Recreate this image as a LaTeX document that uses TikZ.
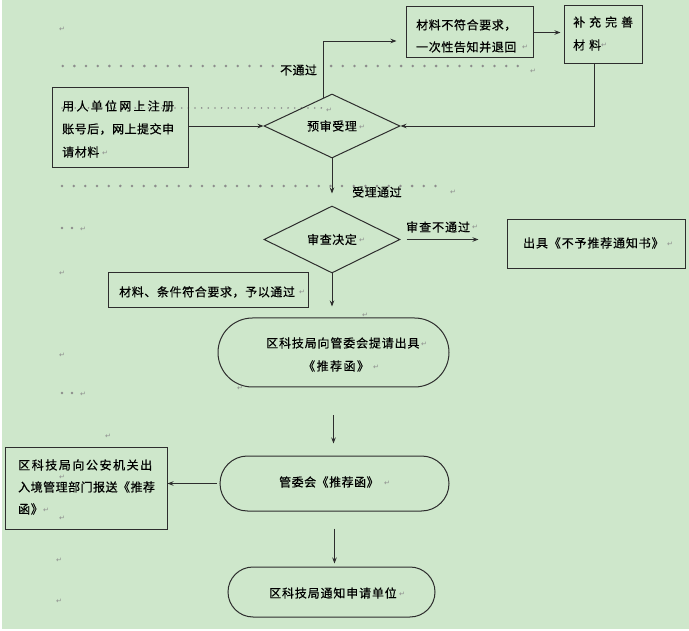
\documentclass[tikz,border=0pt]{standalone}
\usepackage{fontspec}
\setmainfont{DejaVu Sans}
\newfontfamily\cjk[FakeBold=0.5]{Noto Sans CJK SC}
\newfontfamily\djv{DejaVu Sans}
\usetikzlibrary{shapes.geometric,arrows.meta,calc}
\definecolor{bggreen}{RGB}{206,231,203}
\definecolor{linec}{RGB}{45,45,45}
\definecolor{dotc}{RGB}{140,140,140}
\newcommand{\lsp}[2]{{\addfontfeature{LetterSpace=#1}#2}}
\tikzset{
  box/.style={draw=linec, line width=1pt, rectangle, inner sep=0pt},
  dia/.style={draw=linec, line width=1pt, diamond, inner sep=0pt, shape aspect=2,
              font=\cjk\fontsize{12}{14}\selectfont},
  stad/.style={draw=linec, line width=1pt, rectangle, inner sep=0pt},
  conn/.style={draw=linec, line width=0.9pt, -{Stealth[length=6pt,width=4.5pt]}},
  txt/.style={font=\cjk\fontsize{12}{14}\selectfont, inner sep=0pt, anchor=west},
  ret/.style={font=\djv\fontsize{7}{8}\selectfont, text=dotc, inner sep=0pt},
}
\begin{document}
\begin{tikzpicture}[x=1pt,y=-1pt]
\useasboundingbox (0,0) rectangle (689,631);
\fill[white] (0,0) rectangle (689,631);
\fill[bggreen] (2,0) rectangle (689,629);

% dotted leader lines
\foreach \k in {0,...,18} \fill[dotc] (62.7+11.67*\k,66) circle (1.4pt);
\foreach \k in {23,...,39} \fill[dotc] (62.7+11.67*\k,66) circle (1.4pt);
\foreach \k in {0,...,39} \fill[dotc] (62+6.65*\k,108) circle (0.9pt);
\foreach \k in {0,...,32} \fill[dotc] (62+11.67*\k,186) circle (1.4pt);
\foreach \yy in {228,393} {
  \fill[dotc] (62,\yy) circle (1.4pt);
  \fill[dotc] (72,\yy) circle (1.4pt);
}

% boxes and shapes
\node[box, minimum width=127pt, minimum height=51pt] (box1) at (469.5,32.5) {};
\node[box, minimum width=78pt, minimum height=58pt] (box2) at (603,35) {};
\node[box, minimum width=136pt, minimum height=80pt] (reg) at (120,128) {};
\node[dia, minimum width=136pt, minimum height=64pt] (pre) at (332,126) {\lsp{5}{预审受理}};
\node[dia, minimum width=136pt, minimum height=67pt] (rev) at (332,239.5) {\lsp{5}{审查决定}};
\node[box, minimum width=178pt, minimum height=49pt] (rej) at (596,244.5) {};
\node[box, minimum width=200pt, minimum height=35pt] (pass) at (208,290.5) {};
\node[stad, minimum width=231pt, minimum height=69pt, rounded corners=34.5pt] (s1) at (333.5,352.5) {};
\node[stad, minimum width=229pt, minimum height=55pt, rounded corners=27.5pt] (s2) at (334.5,483.5) {};
\node[box, minimum width=162pt, minimum height=82pt] (psb) at (86,488) {};
\node[stad, minimum width=207pt, minimum height=50pt, rounded corners=25pt] (s3) at (331.5,592) {};

% texts
\node[txt] (t1a) at (416,25) {\lsp{5}{材料不符合要求，}};
\node[txt] (t1b) at (416,47) {\lsp{5}{一次性告知并退回}};
\node[txt] (t2a) at (573,22) {\lsp{33}{补充完善}};
\node[txt] (t2b) at (573,45) {\lsp{33}{材料}};
\node[txt] (t3a) at (62,106) {\lsp{19}{用人单位网上注册}};
\node[txt] (t3b) at (62,129) {\lsp{4}{账号后，网上提交申}};
\node[txt] (t3c) at (62,152) {\lsp{5}{请材料}};
\node[txt] (t4) at (523,243) {\lsp{7}{出具《不予推荐通知书》}};
\node[txt] (t5) at (119,292) {\lsp{5}{材料、条件符合要求，予以通过}};
\node[txt] (t6a) at (266,343) {\lsp{7}{区科技局向管委会提请出具}};
\node[txt] (t6b) at (303,366) {\lsp{12}{《推荐函》}};
\node[txt] (t7) at (279,482) {\lsp{4}{管委会《推荐函》}};
\node[txt] (t8a) at (18,465) {\lsp{13}{区科技局向公安机关出}};
\node[txt] (t8b) at (18,487) {\lsp{4}{入境管理部门报送《推荐}};
\node[txt] (t8c) at (18,509) {\lsp{5}{函》}};
\node[txt] (t9) at (269,593) {\lsp{7}{区科技局通知申请单位}};
\node[txt] (l1) at (280,70) {\lsp{3}{不通过}};
\node[txt] (l2) at (352,192) {\lsp{4}{受理通过}};
\node[txt] (l3) at (406,227) {\lsp{8}{审查不通过}};

% paragraph marks
\foreach \px/\py [count=\i] in {62/29,525/47,604/45,533/71,329/110,362/127,105/153,453/192,
  83/229,362/240,475/227,670/244,62/273,302/292,365/315,424/344,376/367,62/355,83/394,
  240/388,108/436,62/477,46/510,62/518,387/483,59/560,59/601,402/594}
  \node[ret] (pm\i) at (\px,\py) {↵};

% connectors
\draw[conn] (reg.east |- pre.west) -- (pre.west);
\draw[conn, shorten >=9pt] (pre.107) |- ($(box1.west)+(0,8.5)$);
\draw[conn, shorten >=3pt] (box1.east) -- (box1.east -| box2.west);
\draw[conn] ($(box2.south)+(-9,0)$) |- (pre.east);
\draw[conn, shorten >=12pt] (pre.south) -- (rev.north);
\draw[conn, shorten <=6pt, shorten >=28pt] (rev.east) -- (rev.east -| rej.west);
\draw[conn, shorten >=2pt] (rev.south) -- (rev.south |- pass.south);
\draw[conn, shorten <=28pt, shorten >=12pt] (s1.south) -- (s1.south |- s2.north);
\draw[conn, shorten <=3pt] (s2.west) -- (s2.west -| psb.east);
\draw[conn, shorten <=17pt, shorten >=3pt] (s2.south) -- (s2.south |- s3.north);
\end{tikzpicture}
\end{document}
